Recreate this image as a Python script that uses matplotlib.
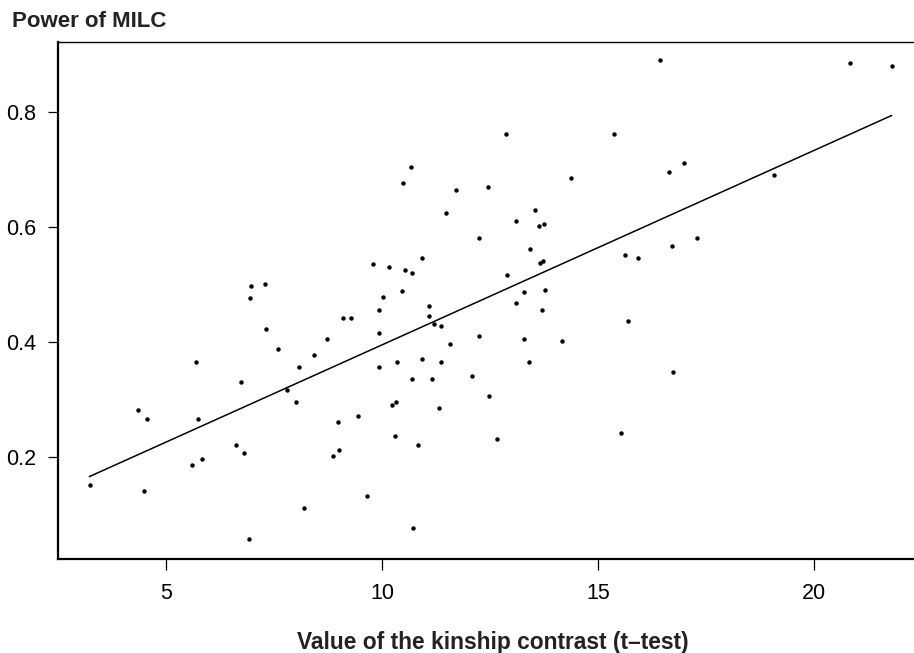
import numpy as np
import matplotlib
matplotlib.use("Agg")
import matplotlib.pyplot as plt

plt.rcParams['font.family'] = ['Liberation Sans', 'DejaVu Sans']

# kinship contrast (t-test) values and MILC power
kinship_t = [
    10.66, 10.49, 11.70, 11.49, 12.24, 12.44, 9.80, 10.17, 10.52, 10.69, 10.93,
    10.01, 10.45, 6.97, 7.28, 6.94,
    16.43, 20.83, 21.79, 12.87, 15.36, 14.37, 16.63, 16.98, 19.07, 13.54, 13.11,
    13.63, 13.74, 13.43, 13.66, 13.72, 12.88, 13.28, 13.78, 15.62, 15.92, 16.70,
    17.28,
    7.31, 7.58, 5.70, 6.73, 4.36, 4.55, 5.74, 3.23, 4.48, 5.59, 5.84, 6.61, 6.81,
    6.91, 8.19, 7.79, 8.00, 8.07, 8.42, 8.73, 9.09, 9.28, 9.92, 9.94, 9.92, 10.35,
    10.69, 10.92, 11.15, 11.37, 11.57, 11.09, 11.09, 11.21, 11.37, 12.24, 12.07,
    11.32, 10.24, 10.32, 9.44, 8.98, 8.86, 9.00, 10.29, 10.83, 9.65, 10.71,
    13.11, 13.70, 15.70, 13.28, 14.16, 13.40, 16.74, 12.48, 15.53, 12.67,
]
power_milc = [
    0.704, 0.676, 0.665, 0.625, 0.581, 0.670, 0.536, 0.530, 0.526, 0.520, 0.546,
    0.479, 0.489, 0.497, 0.501, 0.476,
    0.890, 0.885, 0.880, 0.761, 0.761, 0.686, 0.696, 0.711, 0.690, 0.630, 0.610,
    0.601, 0.606, 0.561, 0.537, 0.541, 0.517, 0.487, 0.491, 0.551, 0.546, 0.567,
    0.581,
    0.422, 0.387, 0.366, 0.331, 0.281, 0.266, 0.266, 0.151, 0.141, 0.186, 0.196,
    0.221, 0.207, 0.057, 0.111, 0.316, 0.296, 0.356, 0.377, 0.406, 0.441, 0.441,
    0.456, 0.416, 0.357, 0.366, 0.336, 0.371, 0.336, 0.366, 0.397, 0.462, 0.446,
    0.432, 0.427, 0.411, 0.341, 0.286, 0.291, 0.296, 0.272, 0.261, 0.202, 0.212,
    0.237, 0.221, 0.133, 0.077,
    0.467, 0.456, 0.437, 0.406, 0.401, 0.366, 0.347, 0.306, 0.242, 0.231,
]

x_ticks = [5, 10, 15, 20]
y_ticks = [0.2, 0.4, 0.6, 0.8]
y_tick_labels = ['0.2', '0.4', '0.6', '0.8']

fig = plt.figure(figsize=(9.14, 6.53), dpi=100)
ax = fig.add_axes([58 / 914, 1 - 559 / 653, 856 / 914, 517 / 653])

ax.plot(kinship_t, power_milc, 'o', color='black', markersize=3.2, markeredgewidth=0)

# least squares line over the range of the data
slope, icpt = np.polyfit(kinship_t, power_milc, 1)
xs = np.array([min(kinship_t), max(kinship_t)])
ax.plot(xs, icpt + slope * xs, color='black', linewidth=1.1)

ax.set_xlim(2.5, 22.31)
ax.set_ylim(0.0226, 0.9217)
ax.set_xticks(x_ticks)
ax.set_yticks(y_ticks)
ax.set_yticklabels(y_tick_labels)

ax.spines['right'].set_visible(False)
ax.spines['left'].set_linewidth(1.6)
ax.spines['bottom'].set_linewidth(1.6)
ax.spines['top'].set_linewidth(1.0)
ax.tick_params(axis='x', direction='out', length=8, width=0.9, pad=9, labelsize=15.5)
ax.tick_params(axis='y', direction='out', length=7, width=0.9, pad=9, labelsize=15.5)

fig.text(12 / 914, 1 - 27 / 653, 'Power of MILC', fontsize=16, fontweight='bold',
         color='#222222', ha='left', va='baseline')
fig.text(493 / 914, 1 - 649 / 653, 'Value of the kinship contrast (t\u2013test)',
         fontsize=16.4, fontweight='bold', color='#222222', ha='center', va='baseline')

fig.savefig('out.png', dpi=100)
